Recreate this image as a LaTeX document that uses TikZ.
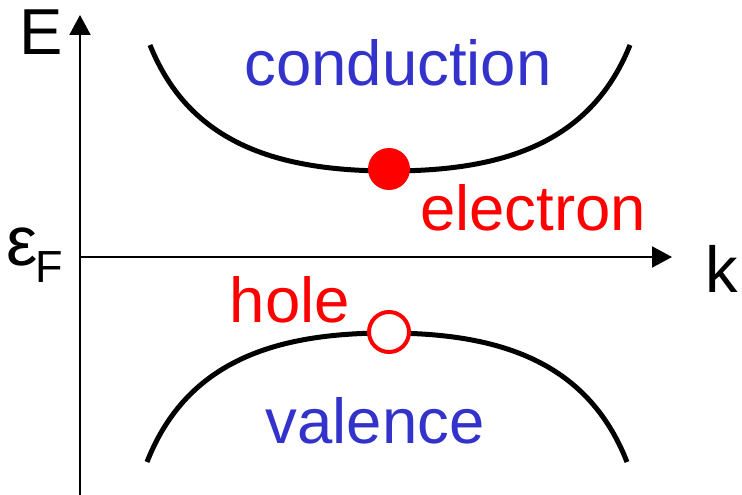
\documentclass[tikz,border=0pt]{standalone}
\usepackage{fontspec}
\setmainfont{Liberation Sans}
\usetikzlibrary{arrows.meta}
\definecolor{bandblue}{HTML}{3333CC}
\definecolor{carrierred}{HTML}{FF0000}
\tikzset{
    bandlabel/.style={font=\fontsize{63.5}{70}\selectfont, text=bandblue, anchor=base, inner sep=0pt},
    carrierlabel/.style={font=\fontsize{63.5}{70}\selectfont, text=carrierred, anchor=base, inner sep=0pt},
    axislabel/.style={font=\fontsize{65}{70}\selectfont, anchor=base, inner sep=0pt},
    band/.style={line width=5pt},
}
\begin{document}
\begin{tikzpicture}[x=1pt, y=-1pt, >={Triangle[length=20pt, width=21pt]}]
    \useasboundingbox (0,0) rectangle (742,495);

    % axes
    \coordinate (ybot) at (80,495);
    \coordinate (ytop) at (80,15);
    \coordinate (xleft) at (80,257);
    \coordinate (xright) at (672,257);
    \draw[->, line width=2pt] (ybot) -- (ytop);
    \draw[->, line width=2pt] (xleft) -- (xright);
    \node[axislabel] (elabel) at (41,55) {E};
    \node[axislabel] (klabel) at (722,292) {k};
    \node[font=\fontsize{70}{70}\selectfont, anchor=base west, inner sep=0pt] (fermi) at (6,265)
        {ε\kern-2pt\raisebox{-17pt}{\fontsize{45}{50}\selectfont F}};

    % bands
    \draw[band] (150,45) .. controls (190,145) and (280,171) .. (390,171)
                         .. controls (500,171) and (590,145) .. (630,45);
    \draw[band] (147,462) .. controls (187,360) and (277,333) .. (387,333)
                          .. controls (497,333) and (587,360) .. (627,462);

    % carriers
    \node[circle, fill=carrierred, minimum size=42pt, inner sep=0pt] (electron) at (389,169) {};
    \node[circle, draw=carrierred, fill=white, line width=4pt, minimum size=40pt, inner sep=0pt] (hole) at (389,332) {};

    \node[bandlabel] (conduction) at (398,85) {conduction};
    \node[bandlabel] (valence) at (375,443) {valence};
    \node[carrierlabel] (electronlabel) at (533,230) {electron};
    \node[carrierlabel] (holelabel) at (290,322) {hole};
\end{tikzpicture}
\end{document}
